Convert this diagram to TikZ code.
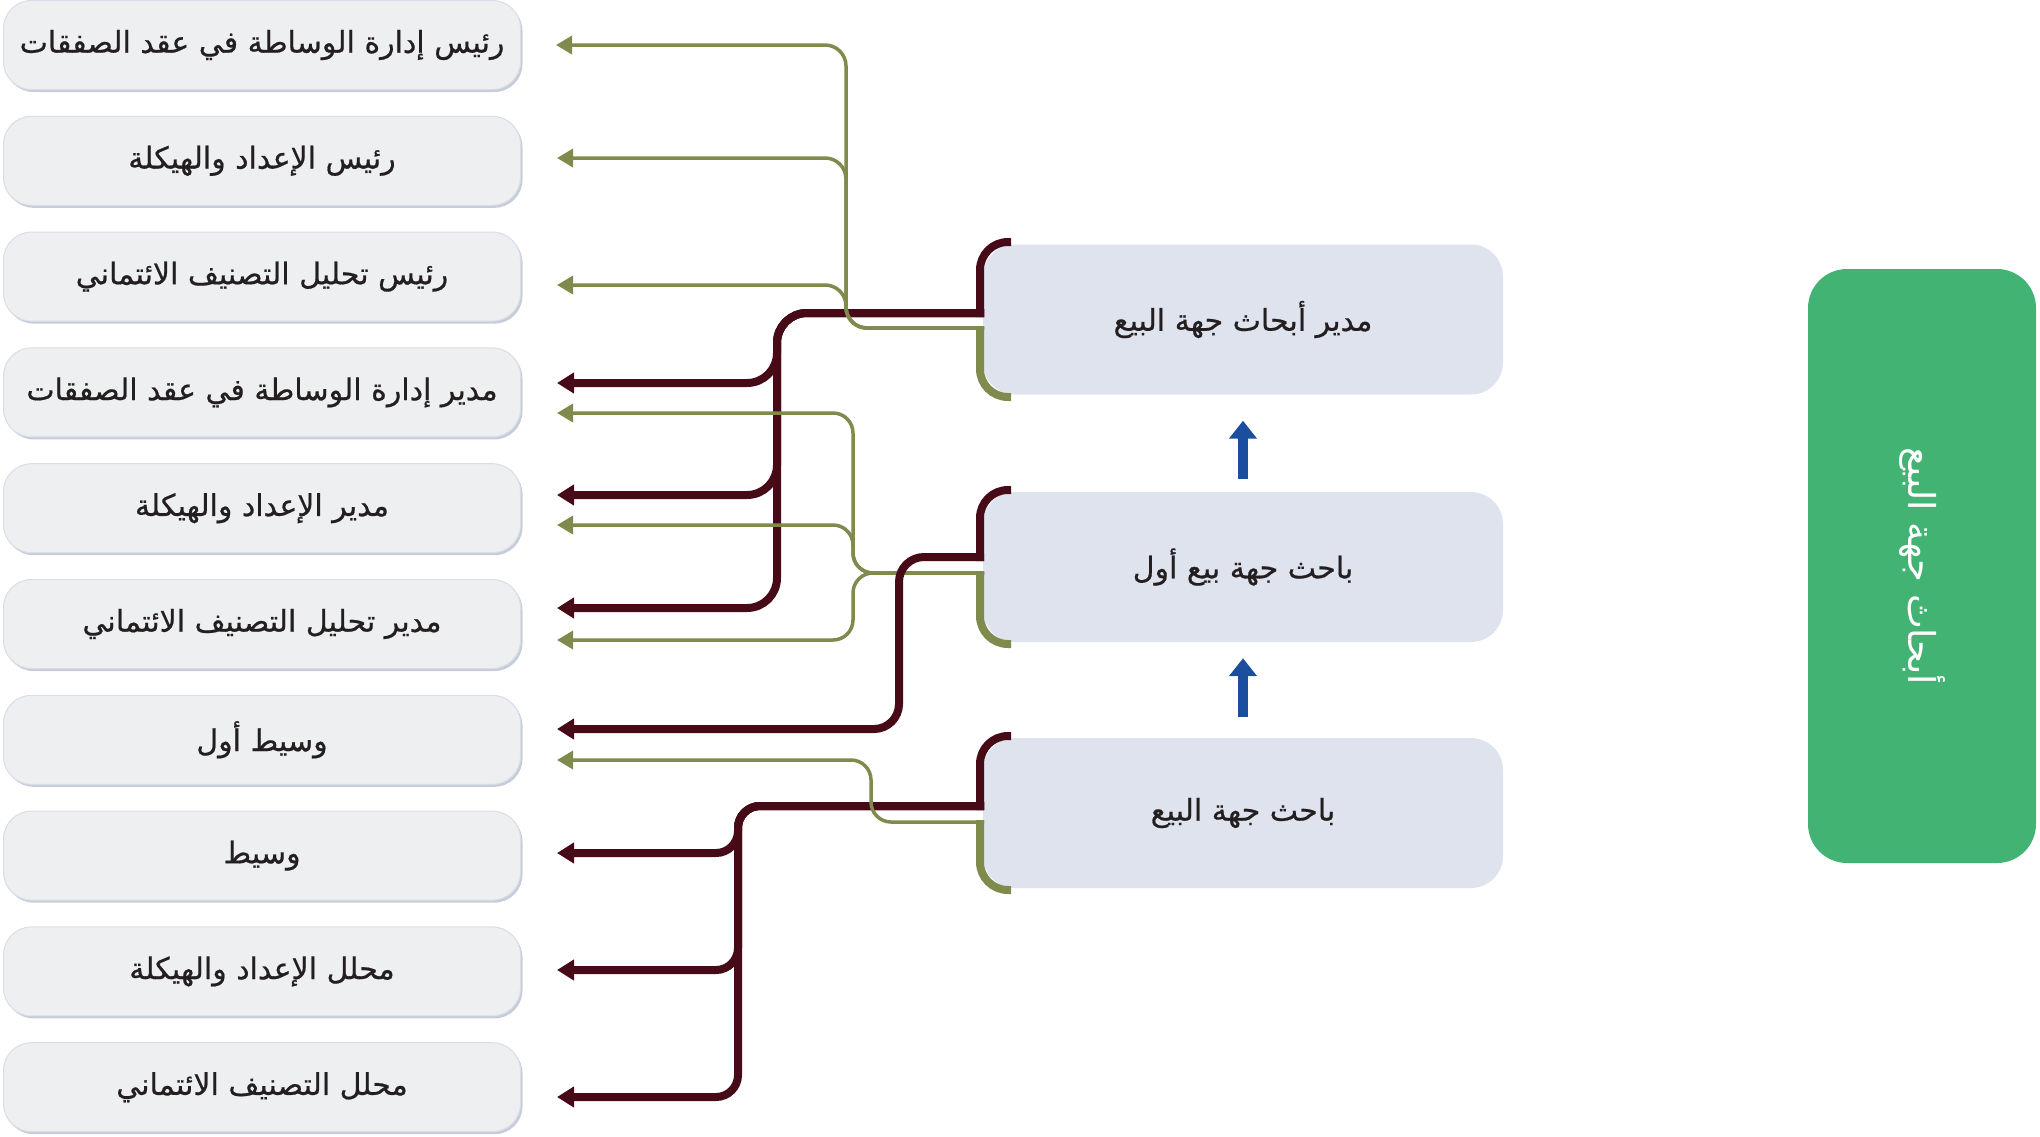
\documentclass[tikz,border=0pt]{standalone}
\usepackage{fontspec}
\TeXXeTstate=1
\newfontfamily\arabicfont[Script=Arabic,FakeBold=0.6]{DejaVu Sans}
\newfontfamily\arabiclight[Script=Arabic]{DejaVu Sans}
\usetikzlibrary{arrows.meta,shadows,calc}

\definecolor{lineMaroon}{HTML}{460B16}
\definecolor{lineOlive}{HTML}{7F8A4D}
\definecolor{leftFill}{HTML}{EEEFF1}
\definecolor{leftEdge}{HTML}{C6CDDA}
\definecolor{leftLine}{HTML}{D9DDE5}
\definecolor{midFill}{HTML}{DFE3EE}
\definecolor{flowBlue}{HTML}{1B4F9E}
\definecolor{headGreen}{HTML}{43B374}
\definecolor{ink}{HTML}{231F20}

\tikzset{
  leftbox/.style={rectangle, rounded corners=28pt, minimum width=517pt,
    minimum height=89pt, inner sep=0pt, fill=leftFill, draw=leftLine,
    line width=1pt, text=ink,
    general shadow={fill=leftEdge, shadow xshift=2pt, shadow yshift=-2.5pt},
    font=\arabicfont\fontsize{30}{34}\selectfont},
  midbox/.style={rectangle, rounded corners=32pt, minimum width=520pt,
    minimum height=150pt, inner sep=0pt, fill=midFill, text=ink,
    font=\arabicfont\fontsize{30}{34}\selectfont},
  headbox/.style={rectangle, rounded corners=39pt, minimum width=228pt,
    minimum height=594pt, inner sep=0pt, fill=headGreen},
  headtext/.style={rotate=-90, text=white, inner sep=0pt,
    font=\arabiclight\fontsize{37}{42}\selectfont},
  mline/.style={draw=lineMaroon, line width=8pt,
    -{Triangle[length=17pt,width=20pt]}},
  gline/.style={draw=lineOlive, line width=3.5pt,
    -{Triangle[length=16pt,width=18pt]}},
  brM/.style={draw=lineMaroon, line width=8pt, rounded corners=28pt},
  brG/.style={draw=lineOlive, line width=8pt, rounded corners=28pt},
  upflow/.style={draw=flowBlue, line width=10pt,
    -{Triangle[length=18pt,width=27pt]}}
}

\begin{document}
\begin{tikzpicture}[x=1pt,y=-1pt]
\useasboundingbox (0,0) rectangle (2040,1136);

% role boxes on the left
\node[leftbox] (L1)  at (262,45)     {\beginR رئيس إدارة الوساطة في عقد الصفقات\endR};
\node[leftbox] (L2)  at (262,160.8)  {\beginR رئيس الإعداد والهيكلة\endR};
\node[leftbox] (L3)  at (262,276.6)  {\beginR رئيس تحليل التصنيف الائتماني\endR};
\node[leftbox] (L4)  at (262,392.4)  {\beginR مدير إدارة الوساطة في عقد الصفقات\endR};
\node[leftbox] (L5)  at (262,508.2)  {\beginR مدير الإعداد والهيكلة\endR};
\node[leftbox] (L6)  at (262,624)    {\beginR مدير تحليل التصنيف الائتماني\endR};
\node[leftbox] (L7)  at (262,739.8)  {\beginR وسيط أول\endR};
\node[leftbox] (L8)  at (262,855.6)  {\beginR وسيط\endR};
\node[leftbox] (L9)  at (262,971.4)  {\beginR محلل الإعداد والهيكلة\endR};
\node[leftbox] (L10) at (262,1087.2) {\beginR محلل التصنيف الائتماني\endR};

% career ladder in the middle
\node[midbox] (A) at (1243,319.5) {\beginR مدير أبحاث جهة البيع\endR};
\node[midbox] (B) at (1243,567)   {\beginR باحث جهة بيع أول\endR};
\node[midbox] (C) at (1243,813)   {\beginR باحث جهة البيع\endR};

% track label
\node[headbox] (H) at (1922,566) {};
\node[headtext] (Ht) at (H.center) {\beginR أبحاث جهة البيع\endR};

% promotion arrows
\draw[upflow] ([yshift=13pt]B.north) -- ([yshift=-26pt]A.south);
\draw[upflow] ([yshift=21pt]C.north) -- ([yshift=-16pt]B.south);

% connector start points and arrow ends
\coordinate (A-m) at (984,313);
\coordinate (A-g) at (984,328);
\coordinate (B-m) at (984,557);
\coordinate (B-g) at (984,573);
\coordinate (C-m) at (984,806);
\coordinate (C-g) at (984,822);

\coordinate (t1g)  at ([xshift=35pt]L1.east);
\coordinate (t2g)  at (557,158);
\coordinate (t3g)  at (557,285);
\coordinate (t4m)  at (557,383);
\coordinate (t4g)  at (557,413);
\coordinate (t5m)  at (557,495);
\coordinate (t5g)  at (557,525);
\coordinate (t6m)  at (557,608);
\coordinate (t6g)  at (557,640);
\coordinate (t7m)  at (557,729);
\coordinate (t7g)  at (557,760);
\coordinate (t8m)  at (557,853);
\coordinate (t9m)  at (557,970);
\coordinate (t10m) at (557,1097);

% trunk columns
\coordinate (trAm) at (777,0);
\coordinate (trAg) at (846,0);
\coordinate (trBg) at (853,0);
\coordinate (trBm) at (899,0);
\coordinate (trCm) at (738,0);
\coordinate (trCg) at (871,0);

% manager of research -> managers
\draw[mline, rounded corners=30pt] (A-m) -| (trAm |- t4m) -- (t4m);
\draw[mline, rounded corners=30pt] (A-m) -| (trAm |- t5m) -- (t5m);
\draw[mline, rounded corners=30pt] (A-m) -| (trAm |- t6m) -- (t6m);

% senior researcher -> managers
\draw[gline, rounded corners=20pt] (B-g) -| (trBg |- t4g) -- (t4g);
\draw[gline, rounded corners=20pt] (B-g) -| (trBg |- t5g) -- (t5g);
\draw[gline, rounded corners=20pt] (B-g) -| (trBg |- t6g) -- (t6g);

% senior researcher -> senior broker
\draw[mline, rounded corners=25pt] (B-m) -| (trBm |- t7m) -- (t7m);

% manager of research -> heads
\draw[gline, rounded corners=21pt] (A-g) -| (trAg |- t1g) -- (t1g);
\draw[gline, rounded corners=21pt] (A-g) -| (trAg |- t2g) -- (t2g);
\draw[gline, rounded corners=21pt] (A-g) -| (trAg |- t3g) -- (t3g);

% researcher -> broker and analysts
\draw[mline, rounded corners=22pt] (C-m) -| (trCm |- t8m) -- (t8m);
\draw[mline, rounded corners=22pt] (C-m) -| (trCm |- t9m) -- (t9m);
\draw[mline, rounded corners=22pt] (C-m) -| (trCm |- t10m) -- (t10m);

% researcher -> senior broker
\draw[gline, rounded corners=20pt] (C-g) -| (trCg |- t7g) -- (t7g);

% brackets on the left of the ladder boxes
\draw[brM] (1011,242) -- (980,242) -- (980,317);
\draw[brG] (980,326) -- (980,397) -- (1011,397);
\draw[brM] (1011,490) -- (980,490) -- (980,561);
\draw[brG] (980,571) -- (980,644) -- (1011,644);
\draw[brM] (1011,736) -- (980,736) -- (980,810);
\draw[brG] (980,820) -- (980,890) -- (1011,890);
\end{tikzpicture}
\end{document}
